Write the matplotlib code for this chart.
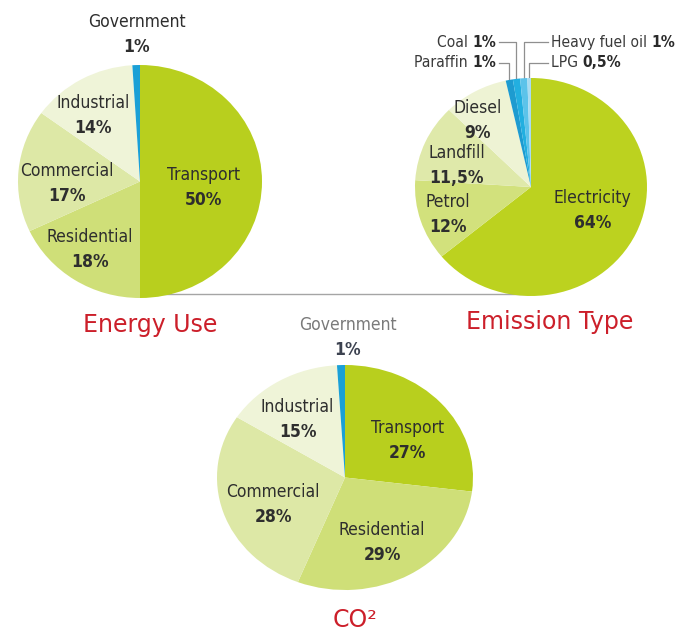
import matplotlib
matplotlib.use("Agg")
import matplotlib.pyplot as plt
import numpy as np
from matplotlib.lines import Line2D
from matplotlib.offsetbox import TextArea, HPacker, AnnotationBbox
from matplotlib import font_manager

# data
energy_labels = ["Transport", "Residential", "Commercial", "Industrial", "Government"]
energy_vals = [50, 18, 17, 14, 1]
energy_text = ["50%", "18%", "17%", "14%", "1%"]

emission_labels = ["Electricity", "Petrol", "Landfill", "Diesel",
                   "Paraffin", "Coal", "Heavy fuel oil", "LPG"]
emission_vals = [64, 12, 11.5, 9, 1, 1, 1, 0.5]
emission_text = ["64%", "12%", "11,5%", "9%", "1%", "1%", "1%", "0,5%"]

co2_labels = ["Transport", "Residential", "Commercial", "Industrial", "Government"]
co2_vals = [27, 29, 28, 15, 1]
co2_text = ["27%", "29%", "28%", "15%", "1%"]

# colours
sector_cols = ["#b8cf1e", "#cfdf78", "#dde8a6", "#eff4d8", "#1ba0d6"]
emission_cols = ["#bcd21f", "#d2e17c", "#dfe9aa", "#eef3d4",
                 "#1d9bd0", "#22afe0", "#5cc3ea", "#a9dcf2"]
red = "#cc1f2a"
txt = "#2e2e2e"

# pick a narrow font if there is one
fonts = {(f.name, f.stretch) for f in font_manager.fontManager.ttflist}
if any(n == "Liberation Sans Narrow" for n, s in fonts):
    FONT, STRETCH, FS = ["Liberation Sans Narrow", "DejaVu Sans"], "normal", 14
elif ("DejaVu Sans", "condensed") in fonts:
    FONT, STRETCH, FS = ["DejaVu Sans"], "condensed", 12.5
else:
    FONT, STRETCH, FS = ["Liberation Sans", "DejaVu Sans"], "normal", 12

W, H = 677, 633
fig = plt.figure(figsize=(W / 100, H / 100), dpi=100)


def pie_axes(x0, y0, x1, y1):
    # pixel box (top-left origin) -> figure axes
    ax = fig.add_axes([x0 / W, 1 - y1 / H, (x1 - x0) / W, (y1 - y0) / H])
    return ax


def draw_pie(ax, vals, cols):
    wedges, _ = ax.pie(vals, colors=cols, startangle=90, counterclock=False,
                       radius=1, wedgeprops=dict(linewidth=0))
    ax.set_aspect("auto")
    ax.set_xlim(-1, 1)
    ax.set_ylim(-1, 1)
    ax.axis("off")
    return wedges


def label(ax, x, y, name, pct, name_col=txt, pct_col=txt):
    ax.text(x, y, name, ha="center", va="center", fontsize=FS,
            family=FONT, fontstretch=STRETCH, color=name_col)
    ax.annotate(pct, xy=(x, y), xytext=(0, -18), textcoords="offset points",
                ha="center", va="center", fontsize=FS, family=FONT,
                fontstretch=STRETCH, fontweight="bold", color=pct_col,
                annotation_clip=False)


def inline_label(ax, x, y, name, pct, side):
    props = dict(fontsize=FS - 1.3, family=FONT, fontstretch=STRETCH)
    parts = [TextArea(name + " ", textprops=dict(color="#3a3a3a", **props)),
             TextArea(pct, textprops=dict(color="#2a2a2a", fontweight="bold", **props))]
    box = HPacker(children=parts, sep=0, pad=0, align="baseline")
    align = (1, 0.5) if side == "left" else (0, 0.5)
    ab = AnnotationBbox(box, (x, y), xycoords="data", box_alignment=align,
                        frameon=False, pad=0, annotation_clip=False)
    ax.add_artist(ab)


# connector line behind the top pies
fig.add_artist(Line2D([146 / W, 530 / W], [1 - 294 / H, 1 - 294 / H],
                      color="#a5a5a5", lw=1.0, zorder=-1))

# Energy Use
ax1 = pie_axes(18, 65, 262, 298)
draw_pie(ax1, energy_vals, sector_cols)
pos1 = [(0.52, 0.06), (-0.41, -0.48), (-0.60, 0.09), (-0.385, 0.67), (-0.025, 1.37)]
for (x, y), n, p in zip(pos1, energy_labels, energy_text):
    label(ax1, x, y, n, p)

# Emission Type
ax2 = pie_axes(415, 78, 647, 296)
w2 = draw_pie(ax2, emission_vals, emission_cols)
pos2 = [(0.53, -0.10), (-0.72, -0.14), (-0.64, 0.31), (-0.46, 0.725)]
for (x, y), n, p in zip(pos2, emission_labels[:4], emission_text[:4]):
    label(ax2, x, y, n, p)

# small wedges with leader lines: (label y, label x end, side)
small = {4: (1.14, -0.30, "left"), 5: (1.33, -0.30, "left"),
         6: (1.33, 0.17, "right"), 7: (1.14, 0.17, "right")}
for i, (ly, lx, side) in small.items():
    w = w2[i]
    mid = np.deg2rad((w.theta1 + w.theta2) / 2)
    xe, ye = np.cos(mid), np.sin(mid)
    ax2.plot([xe, xe, lx + (0.02 if side == "left" else -0.02)], [ye, ly, ly],
             color="#8f8f8f", lw=0.9, clip_on=False, zorder=0)
    inline_label(ax2, lx, ly, emission_labels[i], emission_text[i], side)

# CO2
ax3 = pie_axes(217, 365, 473, 590)
draw_pie(ax3, co2_vals, sector_cols)
pos3 = [(0.485, 0.44), (0.29, -0.47), (-0.56, -0.13), (-0.37, 0.63), (0.02, 1.355)]
for (x, y), n, p in zip(pos3, co2_labels, co2_text):
    if n == "Government":
        label(ax3, x, y, n, p, name_col="#7a7a7a", pct_col="#3c4250")
    else:
        label(ax3, x, y, n, p)

# titles
fig.text(150 / W, 1 - 325 / H, "Energy Use", ha="center", va="center",
         fontsize=17, color=red, family="DejaVu Sans")
fig.text(550 / W, 1 - 322 / H, "Emission Type", ha="center", va="center",
         fontsize=17, color=red, family="DejaVu Sans")
fig.text(355 / W, 1 - 620 / H, "CO²", ha="center", va="center",
         fontsize=17, color=red, family="DejaVu Sans")

fig.savefig("out.png", dpi=100)
